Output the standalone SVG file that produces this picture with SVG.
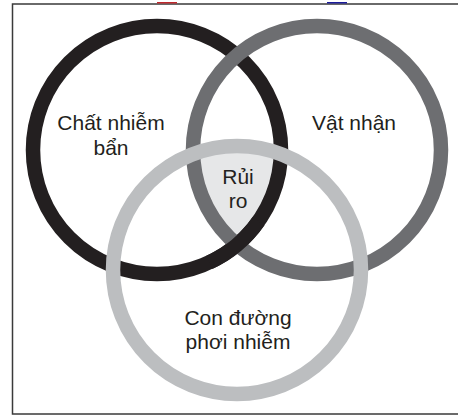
<svg xmlns="http://www.w3.org/2000/svg" width="458" height="416" viewBox="0 0 458 416">
<style>
.ring{fill:none;stroke-width:14.5}
.lbl{font-family:"Liberation Sans",Arial,sans-serif;font-size:21px;fill:#231f20;text-anchor:middle}
</style>
<defs>
<clipPath id="c1"><circle cx="157" cy="150" r="124"/></clipPath>
<clipPath id="c2"><circle cx="317" cy="150" r="124"/></clipPath>
</defs>
<rect x="0" y="0" width="458" height="416" fill="#ffffff"/>
<rect x="12.5" y="4" width="470" height="410" fill="none" stroke="#3a3a3a" stroke-width="1.5"/>
<rect x="157" y="2" width="20" height="1.5" fill="#c0282d"/>
<rect x="327" y="2" width="20" height="1.5" fill="#1c1c9c"/>
<g id="risk-fill" clip-path="url(#c1)"><g clip-path="url(#c2)"><circle cx="237" cy="270" r="124" fill="#e6e7e8"/></g></g>
<g id="contaminant"><circle class="ring" cx="157" cy="150" r="124" stroke="#231f20"/></g>
<g id="receptor"><circle class="ring" cx="317" cy="150" r="124" stroke="#6d6e71"/></g>
<g id="contaminant-over"><path class="ring" d="M258.6,221.1 A124,124 0 0 1 209.4,262.4" stroke="#231f20"/></g>
<g id="pathway"><circle class="ring" cx="237" cy="270" r="124" stroke="#bcbec0"/></g>
<g id="labels">
<text class="lbl" x="111" y="130">Chất nhiễm</text>
<text class="lbl" x="111" y="155">bẩn</text>
<text class="lbl" x="354" y="130">Vật nhận</text>
<text class="lbl" x="238" y="184">Rủi</text>
<text class="lbl" x="238" y="208">ro</text>
<text class="lbl" x="238" y="325">Con đường</text>
<text class="lbl" x="238" y="349">phơi nhiễm</text>
</g>
</svg>
